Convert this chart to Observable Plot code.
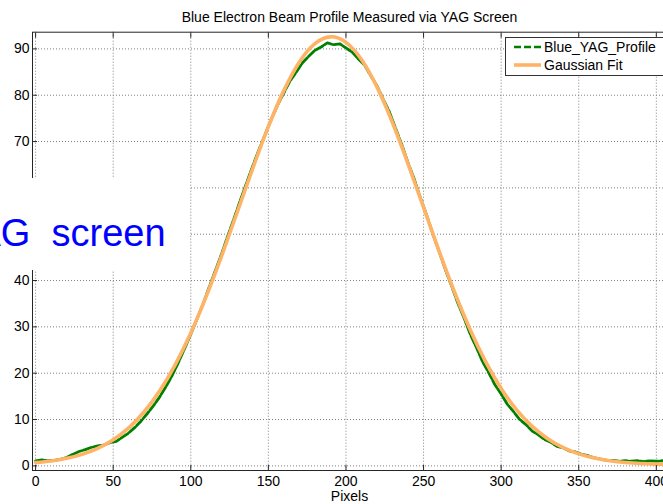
<!DOCTYPE html>
<html>
<head>
<meta charset="utf-8">
<script src="https://cdn.jsdelivr.net/npm/d3@7"></script>
<script src="https://cdn.jsdelivr.net/npm/@observablehq/plot@0.6"></script>
<style>
  html, body { margin: 0; padding: 0; background: #fff; width: 663px; height: 504px; overflow: hidden; }
  #chart { position: relative; width: 700px; height: 504px; overflow: hidden;
           font-family: "Liberation Sans", Arial, Helvetica, sans-serif; color: #000; }
  #title { position: absolute; left: 32px; width: 635px; top: 9px; line-height: 16px;
           text-align: center; font-size: 14px; }
  #plot { position: absolute; left: 0; top: 25px; }
  #xlabel { position: absolute; left: 32px; width: 635px; top: 488px; line-height: 16px;
            text-align: center; font-size: 14px; }
  #legend { position: absolute; left: 505px; top: 37px; width: 200px; height: 39px;
            background: #fff; border: 1px solid #333; box-sizing: border-box; }
  #legend svg { position: absolute; left: 0; top: 0; }
  #legend .item { position: absolute; left: 38px; font-size: 14px; line-height: 16px; white-space: nowrap; }
  #note { position: absolute; left: 0; top: 178px; width: 190px; height: 92px; background: #fff; overflow: hidden; }
  #note span { position: absolute; left: -47px; top: 34px; font-size: 38px; line-height: 42px;
               color: #0000ff; white-space: pre; }
</style>
</head>
<body>
<div id="chart">
  <div id="title">Blue Electron Beam Profile Measured via YAG Screen</div>
  <div id="plot"></div>
  <div id="xlabel">Pixels</div>
  <div id="legend">
    <svg width="40" height="39">
      <line x1="8" x2="35" y1="9" y2="9" stroke="#008000" stroke-width="2.6" stroke-dasharray="7,3"></line>
      <line x1="8" x2="35" y1="27" y2="27" stroke="#ffb366" stroke-width="3.6"></line>
    </svg>
    <div class="item" style="top:1px">Blue_YAG_Profile</div>
    <div class="item" style="top:19px">Gaussian Fit</div>
  </div>
  <div id="note"><span>YAG  screen</span></div>
</div>
<script>
// Measured intensity profile along the YAG screen (pixel index, counts)
const profileX = [
  0, 4, 8, 12, 16, 20, 24, 28, 32, 36, 40, 44, 48, 52, 56, 60, 64, 68, 72, 76,
  80, 84, 88, 92, 96, 100, 104, 108, 112, 116, 120, 124, 128, 132, 136, 140, 144, 148, 152, 156,
  160, 164, 168, 172, 176, 180, 184, 188, 192, 196, 200, 204, 208, 212, 216, 220, 224, 228, 232, 236,
  240, 244, 248, 252, 256, 260, 264, 268, 272, 276, 280, 284, 288, 292, 296, 300, 304, 308, 312, 316,
  320, 324, 328, 332, 336, 340, 344, 348, 352, 356, 360, 364, 368, 372, 376, 380, 384, 388, 392, 396,
  400, 404, 408
];
const profileY = [
  1.1, 1.3, 1.1, 1.2, 1.4, 1.8, 2.5, 3.1, 3.5, 4.0, 4.3, 4.5, 5.0, 5.3, 6.2, 7.1, 8.3, 9.7, 11.3, 13.0,
  14.9, 17.1, 19.5, 22.3, 25.3, 28.4, 31.7, 35.0, 38.7, 42.3, 45.9, 49.8, 53.5, 57.4, 61.1, 64.8, 68.3, 71.6, 74.9, 77.9,
  80.5, 83.1, 85.0, 87.0, 88.4, 89.7, 90.4, 91.3, 90.9, 91.1, 90.2, 89.3, 87.8, 86.5, 84.2, 82.0, 79.1, 76.4, 72.8, 69.3,
  65.4, 61.9, 57.8, 54.1, 50.0, 46.3, 42.4, 38.9, 35.2, 32.0, 28.5, 25.6, 22.5, 20.1, 17.5, 15.5, 13.3, 11.7, 10.0, 8.9,
  7.5, 6.7, 5.7, 5.1, 4.2, 3.9, 3.2, 3.0, 2.5, 2.2, 1.7, 1.5, 1.2, 1.2, 1.0, 1.1, 1.0, 1.1, 0.9, 1.1,
  1.0, 1.1, 1.0
];

// Gaussian fit of the profile, sampled every 10 pixels
const fitX = [
  0, 10, 20, 30, 40, 50, 60, 70, 80, 90, 100, 110, 120, 130, 140, 150, 160, 170, 180, 190, 200,
  210, 220, 230, 240, 250, 260, 270, 280, 290, 300, 310, 320, 330, 340, 350, 360, 370, 380, 390, 400, 410
];
const fitY = [
  0.70, 1.06, 1.62, 2.48, 3.77, 5.62, 8.21, 11.68, 16.19, 21.86, 28.70, 36.63, 45.45, 54.83, 64.26, 73.21, 81.04, 87.19, 91.15, 92.60, 91.41,
  87.69, 81.74, 74.06, 65.18, 55.77, 46.37, 37.47, 29.44, 22.49, 16.71, 12.08, 8.51, 5.85, 3.93, 2.59, 1.69, 1.10, 0.73, 0.50, 0.37, 0.29
];

const xTicks = [0, 50, 100, 150, 200, 250, 300, 350, 400];
const yTicks = [0, 10, 20, 30, 40, 50, 60, 70, 80, 90];
// y labels that sit under the annotation box are left out
const yLabelTicks = [0, 10, 20, 30, 40, 70, 80, 90];

const profile = profileX.map((x, i) => ({x, y: profileY[i]}));
const fit = fitX.map((x, i) => ({x, y: fitY[i]}));

const axisColor = "#262626";
const gridStyle = {stroke: "#808080", strokeOpacity: 1, strokeWidth: 1, strokeDasharray: "1,2"};
const blank = () => "";

const chart = Plot.plot({
  width: 700,
  height: 479,
  marginTop: 6.7,
  marginBottom: 34,
  marginLeft: 32,
  marginRight: 33,
  x: {domain: [-2, 407.2]},
  y: {domain: [-1, 93.6]},
  style: {
    fontFamily: "'Liberation Sans', Arial, Helvetica, sans-serif",
    fontSize: "14px",
    color: "#000",
    background: "transparent",
    maxWidth: "none",
    overflow: "visible"
  },
  marks: [
    Plot.gridX(xTicks, gridStyle),
    Plot.gridY(yTicks, gridStyle),
    Plot.line(profile, {x: "x", y: "y", stroke: "#008000", strokeWidth: 2.8, strokeDasharray: "8,2"}),
    Plot.line(fit, {x: "x", y: "y", stroke: "#ffb366", strokeWidth: 3.6, curve: "natural"}),
    Plot.frame({stroke: axisColor, strokeWidth: 1}),
    // tick labels
    Plot.axisX(xTicks, {anchor: "bottom", tickSize: 0, tickPadding: 6, label: null, fill: "#000"}),
    Plot.axisY(yLabelTicks, {anchor: "left", tickSize: 0, tickPadding: 3, label: null, fill: "#000"}),
    // inward tick marks
    Plot.axisX(xTicks, {anchor: "bottom", tickSize: 5, dy: -5, tickFormat: blank, label: null, stroke: axisColor}),
    Plot.axisX(xTicks, {anchor: "top", tickSize: 5, dy: 5, tickFormat: blank, label: null, stroke: axisColor}),
    Plot.axisY(yTicks, {anchor: "left", tickSize: 5, dx: 5, tickFormat: blank, label: null, stroke: axisColor})
  ]
});

document.getElementById("plot").appendChild(chart);
</script>
</body>
</html>
